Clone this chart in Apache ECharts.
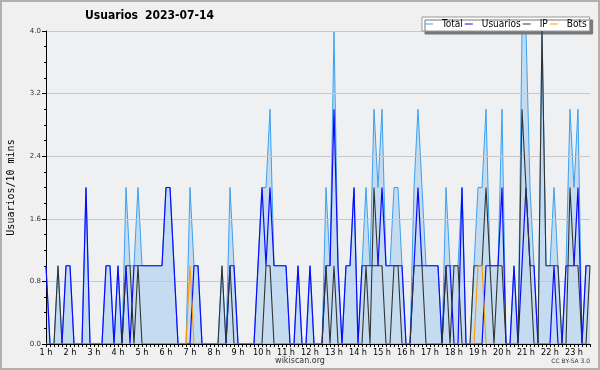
<!DOCTYPE html>
<html><head><meta charset="utf-8">
<script src="https://cdn.jsdelivr.net/npm/echarts@6/dist/echarts.min.js"></script>
<style>html,body{margin:0;padding:0;background:#f0f0f0}#c{width:600px;height:370px}</style>
</head><body><div id="c"></div>
<script>
// 10-minute slots from 1 h (index 0) to ~23:40 (index 136)
const hourLabels = ["1 h","2 h","3 h","4 h","5 h","6 h","7 h","8 h","9 h","10 h","11 h","12 h","13 h","14 h","15 h","16 h","17 h","18 h","19 h","20 h","21 h","22 h","23 h"];
const yTicks = [0, 0.8, 1.6, 2.4, 3.2, 4.0];

const total = [1,0,0,1,0,1,1,0,0,0, 2,0,0,0,0,1,1,0,1,0, 2,1,1,2,1,1,1,1,1,1, 2,2,1,0,0,0,2,1,1,0,
               0,0,0,0,1,0,2,1,0,0, 0,0,0,1,2,2,3,1,1,1, 1,0,0,1,0,0,1,0,0,0, 2,1,4,1,0,1,1,2,0,1,
               2,1,3,2,3,1,1,2,2,1, 0,0,2,3,2,1,1,1,1,0, 2,1,1,1,2,0,0,1,2,2, 3,1,1,1,3,0,0,1,0,4,
               4,2,1,0,4,1,1,2,1,0, 1,3,2,3,0,1,1];
const usuarios = [1,0,0,0,0,1,1,0,0,0, 2,0,0,0,0,1,1,0,1,0, 1,0,1,1,1,1,1,1,1,1, 2,2,1,0,0,0,0,1,1,0,
                  0,0,0,0,0,0,1,1,0,0, 0,0,0,1,2,1,2,1,1,1, 1,0,0,1,0,0,1,0,0,0, 1,1,3,1,0,1,1,2,0,1,
                  1,1,1,1,2,1,1,1,1,1, 0,0,1,2,1,1,1,1,1,0, 1,1,0,0,2,0,0,0,0,0, 1,1,1,1,2,0,0,1,0,1,
                  2,1,1,0,0,0,0,1,0,0, 1,1,1,2,0,1,1];
const ip = [0,0,0,1,0,0,0,0,0,0, 0,0,0,0,0,0,0,0,0,0, 1,1,0,1,0,0,0,0,0,0, 0,0,0,0,0,0,0,0,0,0,
            0,0,0,0,1,0,1,0,0,0, 0,0,0,0,0,1,1,0,0,0, 0,0,0,0,0,0,0,0,0,0, 1,0,1,0,0,0,0,0,0,0,
            1,0,2,1,1,0,0,1,1,0, 0,0,1,1,1,0,0,0,0,0, 1,0,1,1,0,0,0,1,1,1, 2,1,0,1,1,0,0,0,0,3,
            2,1,0,0,4,1,1,1,1,0, 0,2,1,1,0,0,1];
const bots = [0,0,0,0,0,0,0,0,0,0, 0,0,0,0,0,0,0,0,0,0, 0,0,0,0,0,0,0,0,0,0, 0,0,0,0,0,0,1,0,0,0,
              0,0,0,0,0,0,0,0,0,0, 0,0,0,0,0,0,0,0,0,0, 0,0,0,0,0,0,0,0,0,0, 0,0,0,0,0,0,0,0,0,0,
              0,0,0,0,0,0,0,0,0,0, 0,0,0,0,0,0,0,0,0,0, 0,0,0,0,0,0,0,0,1,1, 0,0,0,0,0,0,0,0,0,0,
              0,0,0,0,0,0,0,0,0,0, 0,0,0,0,0,0,0];

const slots = total.map((_, i) => i);
const condensed = "'DejaVu Sans Condensed','DejaVu Sans',sans-serif";

const chart = echarts.init(document.getElementById('c'), null, {renderer: 'canvas'});
chart.setOption({
  backgroundColor: '#f0f0f0',
  animation: false,
  graphic: [
    {type: 'rect', shape: {x: 1, y: 1, width: 598, height: 368}, style: {fill: 'none', stroke: '#b0b0b0', lineWidth: 2}, z: 100},
    {type: 'rect', shape: {x: 46, y: 31, width: 544, height: 313}, style: {fill: '#eef0f2'}, z: -10, silent: true},
    {type: 'text', left: 85, top: 10, style: {text: 'Usuarios', font: "bold 12px 'DejaVu Sans Condensed'", fill: '#000'}},
    {type: 'text', left: 145, top: 10, style: {text: '2023-07-14', font: "bold 12px 'DejaVu Sans Condensed'", fill: '#000'}},
    {type: 'text', left: 'center', top: 357, style: {text: 'wikiscan.org', font: "8px 'DejaVu Sans'", fill: '#333'}},
    {type: 'text', right: 10, top: 358, style: {text: 'CC BY-SA 3.0', font: "6px 'DejaVu Sans'", fill: '#333'}}
  ],
  legend: {
    data: ['Total', 'Usuarios', 'IP', 'Bots'],
    left: 422, top: 17,
    itemWidth: 8, itemHeight: 1, itemGap: 2,
    icon: 'rect',
    padding: [2, 3, 2, 3],
    backgroundColor: '#ffffff', borderColor: '#999', borderWidth: 1,
    shadowColor: '#777', shadowBlur: 0, shadowOffsetX: 3, shadowOffsetY: 3,
    textStyle: {fontFamily: condensed, fontSize: 10, color: '#000', padding: [0, 0, 0, 4]}
  },
  grid: {left: 46, top: 31, right: 10, bottom: 26, containLabel: false, outerBoundsMode: 'none'},
  xAxis: {
    type: 'category', data: slots, boundaryGap: false, z: 10,
    axisLine: {lineStyle: {color: '#000', width: 1}},
    axisTick: {show: true, interval: 0, length: 3, lineStyle: {color: '#000'}},
    axisLabel: {interval: 5, margin: 4, fontFamily: condensed, fontSize: 9, color: '#000',
      formatter: (v, idx) => (idx % 6 === 0 ? hourLabels[idx / 6] : '')},
    splitLine: {show: false}
  },
  yAxis: {
    type: 'value', min: yTicks[0], max: yTicks[yTicks.length - 1], interval: 0.8, z: 1.5,
    name: 'Usuarios/10 mins', nameLocation: 'middle', nameGap: 30, nameRotate: 90,
    nameTextStyle: {fontFamily: "'DejaVu Sans Mono', monospace", fontSize: 10, color: '#000'},
    axisLine: {show: true, lineStyle: {color: '#000', width: 1}},
    axisTick: {show: true, length: 4, lineStyle: {color: '#000'}},
    minorTick: {show: true, splitNumber: 4, length: 2, lineStyle: {color: '#000'}},
    axisLabel: {margin: 5, fontFamily: "'DejaVu Sans'", fontSize: 7, color: '#333', formatter: v => v.toFixed(1)},
    splitLine: {show: true, lineStyle: {color: '#c8c8c8', width: 1}}
  },
  series: [
    {name: 'Total', type: 'line', data: total, z: 1, symbol: 'none', lineStyle: {color: '#3ca0f0', width: 1},
     itemStyle: {color: '#3ca0f0'}, areaStyle: {color: '#c5dcf0', opacity: 1}},
    {name: 'Usuarios', type: 'line', data: usuarios, z: 3, symbol: 'none', lineStyle: {color: '#0a0aff', width: 1.2}, itemStyle: {color: '#0a0aff'}},
    {name: 'IP', type: 'line', data: ip, z: 4, symbol: 'none', lineStyle: {color: '#333333', width: 1.1}, itemStyle: {color: '#333333'}},
    {name: 'Bots', type: 'line', data: bots, z: 5, symbol: 'none', lineStyle: {color: '#ff9900', width: 1.1}, itemStyle: {color: '#ff9900'}}
  ]
});
</script></body></html>
